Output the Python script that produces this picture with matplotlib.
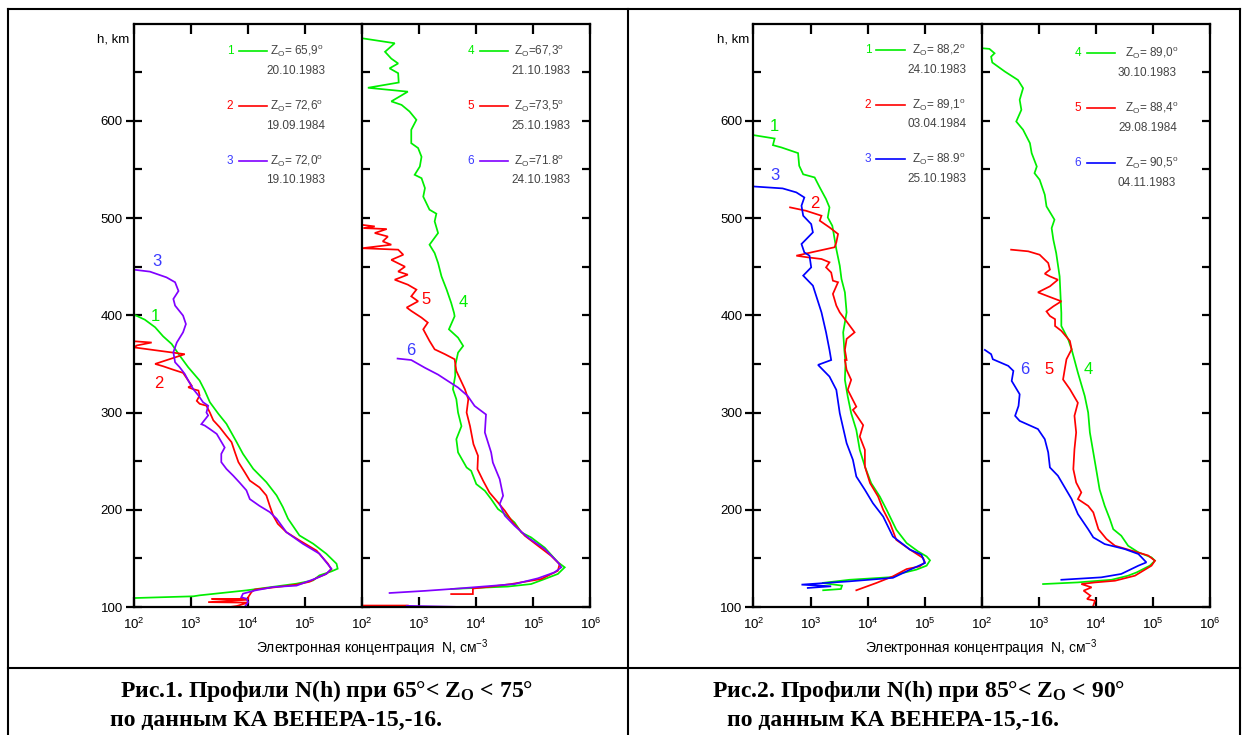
import numpy as np
import matplotlib
matplotlib.use("Agg")
import matplotlib.pyplot as plt
from matplotlib.lines import Line2D
from matplotlib.ticker import FixedLocator, FuncFormatter, NullLocator

plt.rcParams['font.family'] = ['Liberation Sans', 'DejaVu Sans']
plt.rcParams['mathtext.fontset'] = 'custom'
plt.rcParams['mathtext.rm'] = 'Liberation Sans'
plt.rcParams['mathtext.it'] = 'Liberation Sans:italic'
plt.rcParams['mathtext.bf'] = 'Liberation Sans:bold'
plt.rcParams['mathtext.default'] = 'regular'

# ---------------- data (log10 N [cm^-3], h [km]) ----------------
# Figure 1 (65 < Zo < 75), left panel
lgN_a1 = [2.00, 2.19, 2.37, 2.51, 2.66, 2.80, 2.95, 3.15, 3.24, 3.33, 3.48, 3.62, 3.80, 3.91, 4.09, 4.32,
          4.50, 4.61, 4.70, 4.90, 5.14, 5.37, 5.55, 5.57, 5.46, 5.25, 5.14, 4.85, 3.97, 3.15, 3.04, 2.00]
h_a1 = [400.7, 395.5, 387.7, 378.4, 370.5, 358.6, 346.6, 332.9, 322.6, 310.6, 298.6, 288.4, 269.5, 257.5, 242.1, 228.4,
        214.7, 202.7, 190.8, 173.6, 165.1, 154.8, 144.5, 139.4, 136.6, 132.5, 127.4, 124.0, 117.1, 112.0, 111.0, 109.2]

lgN_a2 = [2.00, 2.31, 2.05, 2.00, 2.89, 2.37, 2.51, 2.69, 2.86, 2.95, 3.01, 2.95, 3.04, 3.13, 3.15, 3.10, 3.15, 3.27,
          3.33, 3.39, 3.50, 3.62, 3.71, 3.77, 3.83, 3.94, 4.03, 4.20, 4.32, 4.38, 4.44, 4.52, 4.67, 4.90, 5.20, 5.40,
          5.46, 5.37, 5.20, 5.08, 4.85, 4.50, 4.12, 4.06, 4.00, 4.00, 3.36, 4.00, 3.30, 4.00, 3.80, 3.68]
h_a2 = [373.3, 372.0, 369.0, 367.0, 360.0, 350.0, 347.6, 344.0, 340.8, 333.0, 327.7, 326.0, 324.0, 322.6, 317.5, 312.0,
        309.0, 307.0, 300.0, 292.0, 285.0, 276.0, 269.5, 259.0, 249.0, 238.7, 230.0, 223.0, 214.7, 204.0, 194.0, 185.6,
        177.0, 168.5, 158.0, 144.5, 138.7, 134.0, 129.8, 126.0, 123.0, 120.5, 118.0, 115.4, 110.0, 108.3, 108.3, 107.5,
        105.0, 104.5, 101.0, 100.0]

lgN_a3 = [2.00, 2.28, 2.57, 2.72, 2.78, 2.69, 2.72, 2.86, 2.91, 2.86, 2.75, 2.69, 2.72, 2.80, 2.89, 2.95, 3.04, 3.13,
          3.21, 3.30, 3.27, 3.30, 3.18, 3.24, 3.33, 3.45, 3.50, 3.59, 3.53, 3.53, 3.62, 3.74, 3.85, 3.97, 4.03, 4.20,
          4.38, 4.50, 4.67, 4.96, 5.25, 5.46, 5.37, 5.17, 4.85, 4.44, 4.12, 3.91, 3.88, 3.97, 4.00, 3.94]
h_a3 = [446.9, 444.9, 439.0, 434.0, 425.0, 416.8, 410.0, 399.7, 391.0, 382.5, 372.0, 362.0, 351.7, 346.6, 339.7, 333.0,
        324.0, 317.5, 310.6, 307.0, 300.0, 297.0, 288.0, 286.6, 283.0, 278.0, 273.0, 264.0, 257.5, 249.0, 242.0, 235.0,
        228.0, 220.0, 211.0, 204.0, 197.6, 190.8, 177.0, 165.0, 154.8, 139.4, 134.0, 129.0, 122.0, 120.5, 117.0, 113.7,
        110.0, 108.6, 105.0, 100.0]

# Figure 1, right panel
lgN_b4 = [2.00, 2.57, 2.40, 2.51, 2.63, 2.48, 2.63, 2.64, 2.10, 2.80, 2.51, 2.69, 2.83, 2.95, 2.86, 2.86, 2.98, 3.04,
          3.01, 2.92, 3.04, 3.10, 3.07, 3.18, 3.30, 3.27, 3.33, 3.18, 3.27, 3.33, 3.39, 3.48, 3.56, 3.61, 3.62, 3.52,
          3.68, 3.77, 3.68, 3.63, 3.63, 3.59, 3.65, 3.68, 3.74, 3.65, 3.68, 3.83, 3.91, 4.00, 4.15, 4.26, 4.38, 4.50,
          4.67, 4.79, 4.96, 5.20, 5.43, 5.55, 5.43, 5.20, 4.96, 4.55, 3.74, 3.56]
h_b4 = [684.9, 679.8, 671.0, 664.0, 659.0, 654.0, 649.0, 639.4, 634.0, 630.0, 620.0, 616.4, 609.6, 601.0, 590.8, 577.0,
        572.0, 563.0, 553.0, 544.5, 541.0, 530.8, 522.0, 508.6, 504.5, 496.6, 484.6, 472.6, 464.0, 453.8, 440.0, 426.4,
        412.7, 402.4, 399.0, 385.6, 377.0, 368.5, 361.6, 348.0, 337.7, 324.0, 313.7, 300.0, 286.0, 272.6, 259.0, 243.5,
        240.0, 226.4, 219.5, 211.0, 200.7, 195.6, 187.0, 176.7, 171.6, 161.0, 146.0, 140.8, 134.0, 128.8, 123.6, 121.0,
        119.0, 118.5]

lgN_b5 = [2.00, 2.22, 2.02, 2.43, 2.22, 2.45, 2.36, 2.51, 2.00, 2.63, 2.72, 2.51, 2.75, 2.63, 2.80, 2.57, 2.80, 2.95,
          2.86, 2.98, 2.78, 2.86, 3.04, 3.15, 3.07, 3.18, 3.27, 3.45, 3.62, 3.65, 3.80, 3.86, 3.83, 3.89, 3.95, 4.03,
          4.02, 4.12, 4.23, 4.38, 4.50, 4.64, 4.85, 5.08, 5.31, 5.46, 5.43, 5.14, 4.61, 4.26, 3.94, 3.94, 3.56, np.nan,
          2.00, 2.80]
h_b5 = [493.0, 491.4, 489.7, 488.7, 484.6, 481.0, 476.0, 472.6, 469.0, 467.5, 462.3, 457.0, 450.0, 445.0, 441.8, 436.6,
        431.5, 426.4, 419.5, 414.4, 408.0, 404.5, 397.6, 392.5, 385.6, 373.6, 365.0, 360.0, 354.8, 342.8, 324.0, 313.7,
        300.0, 286.0, 267.5, 255.5, 241.8, 229.8, 217.8, 207.5, 199.0, 187.0, 173.3, 163.0, 152.7, 144.0, 137.3, 128.8,
        123.6, 121.0, 119.0, 113.3, 113.3, np.nan, 101.5, 101.5]

lgN_b6 = [2.62, 2.86, 3.10, 3.33, 3.50, 3.68, 3.85, 3.97, 4.17, 4.15, 4.26, 4.29, 4.41, 4.47, 4.41, 4.50, 4.67, 4.90,
          5.20, 5.43, 5.49, 5.37, 5.08, 4.67, 3.68, 3.10, 2.48, np.nan, 2.78, 3.62]
h_b6 = [355.5, 354.0, 346.0, 339.0, 332.5, 325.7, 317.0, 306.8, 298.0, 279.5, 259.0, 248.6, 231.5, 214.4, 206.0, 194.0,
        183.6, 171.6, 159.6, 146.0, 140.8, 135.6, 129.5, 123.6, 119.0, 116.6, 114.4, np.nan, 101.2, 100.2]

# Figure 2 (85 < Zo < 90), left panel
lgN_c1 = [2.00, 2.37, 2.34, 2.49, 2.78, 2.80, 2.87, 3.07, 3.16, 3.27, 3.33, 3.30, 3.38, 3.42, 3.45, 3.51, 3.54, 3.60,
          3.63, 3.57, 3.59, 3.61, 3.60, 3.65, 3.71, 3.80, 3.86, 3.95, 4.06, 4.21, 4.33, 4.50, 4.68, 4.88, 5.03, 5.09,
          5.03, 4.85, 4.56, 4.44, 3.68, 3.20, 3.55, 3.53, 3.22]
h_c1 = [585.3, 581.8, 575.0, 572.6, 566.8, 553.8, 545.0, 541.8, 531.5, 519.5, 511.0, 500.7, 492.0, 478.4, 468.0, 451.0,
        437.3, 423.6, 403.0, 382.5, 364.4, 350.7, 333.6, 316.4, 299.3, 282.0, 261.6, 244.5, 227.4, 213.7, 200.0, 179.5,
        165.8, 157.2, 152.0, 148.0, 142.5, 138.4, 134.2, 130.8, 128.0, 124.7, 122.0, 118.5, 117.2]

lgN_c2 = [2.64, 2.92, 3.19, 3.16, 3.33, 3.48, 3.45, 3.42, 2.75, 2.95, 3.19, 3.33, 3.27, 3.36, 3.39, 3.48, 3.39, 3.45,
          3.51, 3.60, 3.77, 3.63, 3.60, 3.63, 3.60, 3.63, 3.71, 3.65, 3.80, 3.74, 3.92, 3.86, 3.95, 3.95, 4.04, 4.18,
          4.27, 4.39, 4.50, 4.74, 4.97, 5.00, 4.91, 4.68, 4.44, 4.15, 3.80]
h_c2 = [511.0, 507.5, 502.4, 497.3, 490.4, 483.6, 475.0, 470.0, 461.3, 459.6, 457.9, 454.5, 449.3, 444.0, 435.6, 434.0,
        422.0, 410.0, 403.0, 396.0, 382.5, 375.7, 364.4, 354.0, 354.0, 343.8, 333.6, 323.3, 306.0, 302.7, 287.0, 275.3,
        261.6, 244.5, 227.4, 213.7, 200.0, 186.3, 169.0, 159.0, 150.3, 146.0, 141.8, 139.0, 131.5, 124.7, 117.2]

lgN_c3 = [2.00, 2.51, 2.75, 2.89, 2.84, 2.87, 3.01, 3.04, 2.84, 2.89, 2.98, 3.01, 2.87, 3.04, 3.19, 3.27, 3.33, 3.36,
          3.13, 3.33, 3.45, 3.51, 3.63, 3.74, 3.80, 3.95, 4.09, 4.27, 4.44, 4.74, 4.94, 5.00, 4.74, 4.44, 3.68, 2.84,
          3.36, 2.95]
h_c3 = [532.5, 530.5, 526.4, 521.2, 512.7, 502.4, 493.8, 485.3, 473.3, 464.7, 461.3, 449.3, 440.8, 430.5, 403.0, 382.5,
        364.4, 354.0, 349.0, 337.0, 323.3, 299.3, 268.5, 251.4, 234.2, 220.5, 206.8, 193.0, 172.5, 159.0, 153.8, 145.2,
        138.4, 130.0, 126.4, 123.0, 121.3, 119.6]

# Figure 2, right panel
lgN_d4 = [2.00, 2.13, 2.22, 2.16, 2.18, 2.40, 2.63, 2.72, 2.66, 2.69, 2.60, 2.72, 2.84, 2.87, 2.96, 2.92, 3.01, 3.10,
          3.13, 3.27, 3.22, 3.25, 3.30, 3.36, 3.39, 3.39, 3.51, 3.57, 3.68, 3.80, 3.86, 3.89, 3.95, 4.01, 4.06, 4.15,
          4.24, 4.30, 4.44, 4.56, 4.74, 4.97, 5.03, 4.94, 4.71, 4.56, 4.27, 3.68, 3.07]
h_d4 = [674.7, 674.0, 669.5, 666.0, 660.0, 650.7, 642.0, 633.6, 621.6, 611.3, 599.3, 590.8, 577.0, 566.8, 553.0, 546.2,
        539.4, 524.0, 512.0, 498.3, 489.7, 477.7, 464.0, 440.0, 402.4, 389.0, 375.3, 365.0, 341.0, 317.0, 300.0, 279.5,
        259.0, 238.4, 221.0, 204.0, 190.4, 180.0, 173.3, 163.0, 156.2, 151.0, 147.6, 142.5, 135.6, 132.2, 128.0, 125.3,
        123.6]

lgN_d5 = [2.51, 2.81, 3.01, 3.16, 3.19, 3.10, 3.19, 3.33, 3.19, 2.98, 3.16, 3.39, 3.25, 3.13, 3.19, 3.28, 3.28, 3.39,
          3.54, 3.57, 3.48, 3.45, 3.42, 3.54, 3.68, 3.62, 3.65, 3.62, 3.60, 3.65, 3.74, 3.68, 3.86, 3.95, 4.04, 4.18,
          4.33, 4.62, 4.91, 5.03, 4.97, 4.68, 4.33, 3.98, 3.74, 3.92, 3.78, 3.90, 3.84, 3.98, 3.95]
h_d5 = [467.5, 465.8, 462.3, 453.8, 447.0, 442.8, 440.0, 436.6, 429.8, 423.6, 419.5, 414.4, 409.2, 404.0, 399.3, 396.0,
        389.0, 384.0, 373.6, 365.0, 354.8, 344.5, 334.0, 324.0, 310.0, 296.6, 279.5, 262.3, 241.8, 228.0, 217.8, 211.0,
        204.0, 197.3, 180.0, 170.0, 163.0, 158.0, 153.0, 147.6, 142.5, 132.2, 127.0, 125.3, 123.6, 120.2, 116.8, 111.6,
        108.2, 106.5, 101.4]

lgN_d6 = [2.05, 2.16, 2.19, 2.46, 2.55, 2.52, 2.66, 2.64, 2.58, 2.66, 2.98, 3.10, 3.16, 3.19, 3.33, 3.57, 3.68, 3.86,
          3.95, 4.15, 4.50, 4.74, 4.88, 4.74, 4.44, 4.09, 3.39]
h_d6 = [364.4, 360.0, 354.8, 348.0, 342.8, 332.5, 318.8, 306.8, 296.6, 291.4, 283.0, 272.6, 259.0, 243.5, 235.0, 211.0,
        195.6, 180.0, 171.6, 164.7, 159.6, 154.5, 145.9, 142.5, 134.0, 130.5, 128.0]

# legend entries: (number, Zo text, date)
leg_a = [("1", "= 65,9", "20.10.1983"), ("2", "= 72,6", "19.09.1984"), ("3", "= 72,0", "19.10.1983")]
leg_b = [("4", "=67,3", "21.10.1983"), ("5", "=73,5", "25.10.1983"), ("6", "=71.8", "24.10.1983")]
leg_c = [("1", "= 88,2", "24.10.1983"), ("2", "= 89,1", "03.04.1984"), ("3", "= 88.9", "25.10.1983")]
leg_d = [("4", "= 89,0", "30.10.1983"), ("5", "= 88,4", "29.08.1984"), ("6", "= 90,5", "04.11.1983")]

h_ticks = [100, 200, 300, 400, 500, 600]
h_minor = [150, 250, 350, 450, 550, 650]
n_ticks = [1e2, 1e3, 1e4, 1e5, 1e6]

xlabel = "Электронная концентрация  N, см$^{-3}$"
cap1 = ["Рис.1. Профили N(h) при 65°< Z$_{O}$ < 75°", "по данным КА ВЕНЕРА-15,-16."]
cap2 = ["Рис.2. Профили N(h) при 85°< Z$_{O}$ < 90°", "по данным КА ВЕНЕРА-15,-16."]

# ---------------- styling ----------------
GREEN = "#00EE00"
RED = "#FF0000"
PURPLE = "#8000FF"
BLUE = "#0000FF"
LBLUE = "#3A3AFF"
GRAY = "#444444"

W, H = 1245, 735
fig = plt.figure(figsize=(W / 100, H / 100), dpi=100)


def fx(x):
    return x / W


def fy(y):
    return 1 - y / H


def add_ax(x0, x1, y0=23.6, y1=607.0):
    return fig.add_axes([fx(x0), fy(y1), fx(x1 - x0), (y1 - y0) / H])


def pow_fmt(v, pos):
    e = int(round(np.log10(v)))
    return "$10^{%d}$" % e


def style(ax, first):
    ax.set_xscale("log")
    ax.set_xlim(1e2, 1e6)
    ax.set_ylim(100, 700)
    for s in ax.spines.values():
        s.set_linewidth(1.6)
    ax.xaxis.set_major_locator(FixedLocator(n_ticks))
    ax.xaxis.set_minor_locator(NullLocator())
    if first:
        ax.xaxis.set_major_formatter(FuncFormatter(lambda v, p: "" if v > 5e5 else pow_fmt(v, p)))
    else:
        ax.xaxis.set_major_formatter(FuncFormatter(pow_fmt))
    ax.yaxis.set_major_locator(FixedLocator(h_ticks))
    ax.yaxis.set_minor_locator(FixedLocator(h_minor))
    ax.tick_params(axis="x", which="major", direction="in", length=7, width=1.6, top=True,
                   labelsize=9.5, pad=7)
    if first:
        ax.tick_params(axis="y", which="major", direction="inout", length=12, width=1.6,
                       labelsize=9.5, pad=2, right=False)
        ax.tick_params(axis="y", which="minor", direction="in", length=6, width=1.6, right=False)
        ax.spines["right"].set_visible(False)
    else:
        ax.tick_params(axis="y", which="major", direction="in", length=6, width=1.6,
                       labelleft=False, right=True)
        ax.tick_params(axis="y", which="minor", direction="in", length=6, width=1.6, right=True)


def curve(ax, lg, h, color):
    ax.plot(10 ** np.asarray(lg, dtype=float), h, color=color, lw=1.25, solid_joinstyle="miter")


def legend(entries, colors, numcolors, xnum, xl0, xl1, xz, xd, rows, dates):
    for (num, z, d), c, nc, yr, yd in zip(entries, colors, numcolors, rows, dates):
        fig.text(fx(xnum), fy(yr), num, color=nc, fontsize=8.5, ha="center", va="center")
        fig.add_artist(Line2D([fx(xl0), fx(xl1)], [fy(yr), fy(yr)], color=c, lw=1.2))
        fig.text(fx(xz), fy(yr), "Z$_{O}$" + z + "$^{o}$", color=GRAY, fontsize=8.5,
                 ha="left", va="center")
        fig.text(fx(xd), fy(yd), d, color=GRAY, fontsize=8.5, ha="left", va="center")


# ---------- Figure 1 ----------
axA = add_ax(134, 362.2)
axB = add_ax(362.2, 590.4)
style(axA, True)
style(axB, False)
curve(axA, lgN_a1, h_a1, GREEN)
curve(axA, lgN_a2, h_a2, RED)
curve(axA, lgN_a3, h_a3, PURPLE)
curve(axB, lgN_b4, h_b4, GREEN)
curve(axB, lgN_b5, h_b5, RED)
curve(axB, lgN_b6, h_b6, PURPLE)
axA.text(10 ** 2.37, 399, "1", color=GREEN, fontsize=12, ha="center", va="center")
axA.text(10 ** 2.44, 330, "2", color=RED, fontsize=12, ha="center", va="center")
axA.text(10 ** 2.41, 455, "3", color=LBLUE, fontsize=12, ha="center", va="center")
axB.text(10 ** 3.77, 413, "4", color=GREEN, fontsize=12, ha="center", va="center")
axB.text(10 ** 3.12, 416, "5", color=RED, fontsize=12, ha="center", va="center")
axB.text(10 ** 2.85, 364, "6", color=LBLUE, fontsize=12, ha="center", va="center")

# ---------- Figure 2 ----------
axC = add_ax(753.5, 982)
axD = add_ax(982, 1210.3)
style(axC, True)
style(axD, False)
curve(axC, lgN_c1, h_c1, GREEN)
curve(axC, lgN_c2, h_c2, RED)
curve(axC, lgN_c3, h_c3, BLUE)
curve(axD, lgN_d4, h_d4, GREEN)
curve(axD, lgN_d5, h_d5, RED)
curve(axD, lgN_d6, h_d6, BLUE)
axC.text(10 ** 2.37, 594, "1", color=GREEN, fontsize=12, ha="center", va="center")
axC.text(10 ** 3.07, 515, "2", color=RED, fontsize=12, ha="center", va="center")
axC.text(10 ** 2.37, 544, "3", color=LBLUE, fontsize=12, ha="center", va="center")
axD.text(10 ** 3.87, 344, "4", color=GREEN, fontsize=12, ha="center", va="center")
axD.text(10 ** 3.18, 344, "5", color=RED, fontsize=12, ha="center", va="center")
axD.text(10 ** 2.75, 344, "6", color=LBLUE, fontsize=12, ha="center", va="center")

for ax in (axA, axC):
    ax.text(-0.02, 0.972, "h, km", transform=ax.transAxes, ha="right", va="center", fontsize=9.5)

# legends
legend(leg_a, [GREEN, RED, PURPLE], [GREEN, RED, LBLUE], 230, 239, 267, 270, 266, [51, 106, 161], [71, 126, 180])
legend(leg_b, [GREEN, RED, PURPLE], [GREEN, RED, LBLUE], 471, 480, 508, 514, 511, [51, 106, 161], [71, 126, 180])
legend(leg_c, [GREEN, RED, BLUE], [GREEN, RED, LBLUE], 868, 876, 905, 912, 907, [50, 105, 159], [70, 124, 179])
legend(leg_d, [GREEN, RED, BLUE], [GREEN, RED, LBLUE], 1078, 1087, 1115, 1125, 1118, [53, 108, 163], [73, 128, 183])

# x labels
fig.text(fx(372), fy(648), xlabel, ha="center", va="center", fontsize=10)
fig.text(fx(981), fy(648), xlabel, ha="center", va="center", fontsize=10)

# captions
capkw = dict(fontsize=17, fontweight="bold", family=["Liberation Serif", "DejaVu Serif"], va="center", ha="left")
fig.text(fx(120), fy(691), cap1[0], **capkw)
fig.text(fx(110), fy(720), cap1[1], **capkw)
fig.text(fx(712), fy(691), cap2[0], **capkw)
fig.text(fx(727), fy(720), cap2[1], **capkw)

# table frame
tkw = dict(color="black", lw=1.5)
fig.add_artist(Line2D([fx(8), fx(1240)], [fy(9), fy(9)], **tkw))
fig.add_artist(Line2D([fx(8), fx(1240)], [fy(668), fy(668)], **tkw))
fig.add_artist(Line2D([fx(8), fx(8)], [fy(9), fy(735)], **tkw))
fig.add_artist(Line2D([fx(628), fx(628)], [fy(9), fy(735)], **tkw))
fig.add_artist(Line2D([fx(1240), fx(1240)], [fy(9), fy(735)], **tkw))

fig.savefig("out.png", dpi=100)
